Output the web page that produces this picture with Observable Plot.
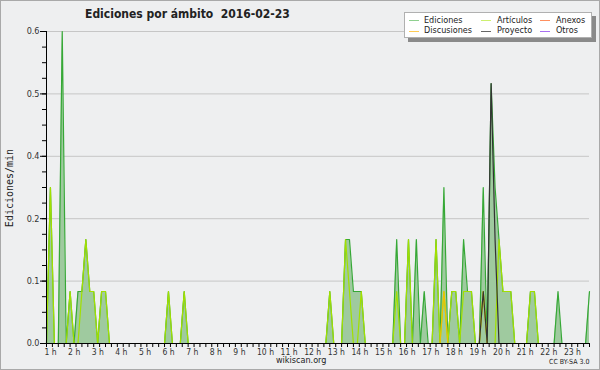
<!DOCTYPE html>
<html><head><meta charset="utf-8">
<script src="https://cdn.jsdelivr.net/npm/d3@7"></script>
<script src="https://cdn.jsdelivr.net/npm/@observablehq/plot@0.6"></script>
<style>
body{margin:0;background:#eeeff0;}
#wrap{position:relative;width:600px;height:370px;background:#eeeff0;overflow:hidden;font-family:"DejaVu Sans Condensed","DejaVu Sans",sans-serif;font-stretch:condensed;color:#222;}
#frame{position:absolute;left:0;top:0;width:600px;height:370px;box-sizing:border-box;border:1px solid #a9a9a9;pointer-events:none;}
.t{position:absolute;white-space:nowrap;line-height:1;}
#legend{position:absolute;left:404px;top:12px;width:188px;height:26px;background:#fff;border:1px solid #b0b0b0;box-shadow:4px 4px 0 0 #8a8a8a;box-sizing:border-box;}
.sw{position:absolute;height:1px;width:10px;}
.lt{position:absolute;font-size:9px;line-height:1;white-space:nowrap;color:#222;}
#chart{position:absolute;left:0;top:0;}
</style></head>
<body><div id="wrap">
<div id="chart"></div>
<div class="t" id="title" style="left:85px;top:8px;font-size:12px;font-weight:bold;">Ediciones por ámbito&nbsp;&nbsp;2016-02-23</div>
<div class="t" id="ytitle" style="left:10px;top:187.5px;font-family:'DejaVu Sans Mono',monospace;font-size:10px;transform:translate(-50%,-50%) rotate(-90deg);font-stretch:normal;">Ediciones/min</div>
<div id="legend"></div>
<div class="t" style="left:276px;top:356px;font-size:9px;">wikiscan.org</div>
<div class="t" style="left:549px;top:359px;font-size:7px;">CC BY-SA 3.0</div>
<div id="frame"></div>
</div>
<script>
// 10-minute bins starting at 1 h (bin 0) up to 24 h (bin 138); one row per hour
const startHour = 1;
const binHours = 1 / 6;
const ediciones = [
  0,0.3,0,0,0.6,0,
  0.1,0,0.1,0.1,0.2,0.1,
  0.1,0,0.1,0.1,0,0,
  0,0,0,0,0,0,
  0,0,0,0,0,0,
  0,0.1,0,0,0,0.1,
  0,0,0,0,0,0,
  0,0,0,0,0,0,
  0,0,0,0,0,0,
  0,0,0,0,0,0,
  0,0,0,0,0,0,
  0,0,0,0,0,0,
  0.1,0,0,0,0.2,0.2,
  0.1,0.1,0.1,0,0,0,
  0,0,0,0,0,0.2,
  0,0,0.2,0,0.2,0,
  0.1,0,0,0.2,0,0.3,
  0,0.1,0.1,0,0.2,0.1,
  0.1,0,0,0.3,0,0.5,
  0.3,0.2,0.1,0.1,0.1,0,
  0,0,0,0.1,0.1,0,
  0,0,0,0,0.1,0,
  0,0,0,0,0,0,
  0.1
];
const articulos = [
  0,0.3,0,0,0,0,
  0.1,0,0,0.1,0.2,0.1,
  0.1,0,0.1,0.1,0,0,
  0,0,0,0,0,0,
  0,0,0,0,0,0,
  0,0.1,0,0,0,0.1,
  0,0,0,0,0,0,
  0,0,0,0,0,0,
  0,0,0,0,0,0,
  0,0,0,0,0,0,
  0,0,0,0,0,0,
  0,0,0,0,0,0,
  0.1,0,0,0,0.2,0.1,
  0,0,0.1,0,0,0,
  0,0,0,0,0,0.1,
  0,0,0.2,0,0,0,
  0,0,0,0.2,0,0.1,
  0,0.1,0.1,0,0.1,0.1,
  0.1,0,0,0.1,0,0,
  0,0.2,0.1,0.1,0.1,0,
  0,0,0,0.1,0.1,0,
  0,0,0,0,0,0,
  0,0,0,0,0,0,
  0
];
const discusiones = [
  0,0,0,0,0,0, 0,0,0,0,0,0, 0,0,0,0,0,0, 0,0,0,0,0,0,
  0,0,0,0,0,0, 0,0,0,0,0,0, 0,0,0,0,0,0, 0,0,0,0,0,0,
  0,0,0,0,0,0, 0,0,0,0,0,0, 0,0,0,0,0,0, 0,0,0,0,0,0,
  0,0,0,0,0,0, 0,0,0,0,0,0, 0,0,0,0,0,0, 0,0,0,0,0,0,
  0,0,0,0,0,0.1, 0,0,0,0,0,0, 0,0,0,0.1,0,0, 0,0,0,0,0,0,
  0,0,0,0,0,0, 0,0,0,0,0,0, 0,0,0,0,0,0,
  0
];
const proyecto = [
  0,0,0,0,0,0, 0,0,0,0,0,0, 0,0,0,0,0,0, 0,0,0,0,0,0,
  0,0,0,0,0,0, 0,0,0,0,0,0, 0,0,0,0,0,0, 0,0,0,0,0,0,
  0,0,0,0,0,0, 0,0,0,0,0,0, 0,0,0,0,0,0, 0,0,0,0,0,0,
  0,0,0,0,0,0, 0,0,0,0,0,0, 0,0,0,0,0,0, 0,0,0,0,0,0,
  0,0,0,0,0,0, 0,0,0,0,0,0, 0,0,0,0.1,0,0.5, 0.2,0,0,0,0,0,
  0,0,0,0,0,0, 0,0,0,0,0,0, 0,0,0,0,0,0,
  0
];
const anexos = new Array(ediciones.length).fill(0);
const otros = new Array(ediciones.length).fill(0);

const hourTicks = [1,2,3,4,5,6,7,8,9,10,11,12,13,14,15,16,17,18,19,20,21,22,23];
const hourLabels = ["1 h","2 h","3 h","4 h","5 h","6 h","7 h","8 h","9 h","10 h","11 h","12 h","13 h","14 h","15 h","16 h","17 h","18 h","19 h","20 h","21 h","22 h","23 h"];
const yTicks = [0, 0.12, 0.24, 0.36, 0.48, 0.6];
const yLabels = ["0.0","0.1","0.2","0.4","0.5","0.6"];

const seriesNames = ["Ediciones","Artículos","Anexos","Discusiones","Proyecto","Otros"];
const lineColors = ["#36a836","#a2e000","#ff7a45","#f0c000","#333333","#9a4df0"];
const legendColors = ["#8fd08f","#cdf070","#ff9060","#ffcc55","#666666","#a870f0"];

const rows = ediciones.map((v, i) => ({
  t: startHour + i * binHours,
  ed: v, ar: articulos[i], an: anexos[i], di: discusiones[i], pr: proyecto[i], ot: otros[i]
}));

const minorX = d3.range(1, 24.001, 0.25);
const minorY = d3.range(0, 0.6001, 0.03);

const chart = Plot.plot({
  width: 600, height: 370,
  marginLeft: 46, marginRight: 11, marginTop: 31, marginBottom: 27,
  style: {background: "transparent", fontFamily: "'DejaVu Sans Condensed','DejaVu Sans',sans-serif", fontStretch: "condensed", color: "#333"},
  x: {domain: [1, 24], axis: null},
  y: {domain: [0, 0.6], axis: null},
  marks: [
    Plot.gridY(yTicks.slice(1), {stroke: "#c6c6c6", strokeOpacity: 1}),
    Plot.areaY(rows, {x: "t", y: "ed", fill: "#9fca9f", curve: "linear"}),
    Plot.lineY(rows, {x: "t", y: "ed", stroke: lineColors[0], strokeWidth: 1.2}),
    Plot.lineY(rows, {x: "t", y: "ar", stroke: lineColors[1], strokeWidth: 1.2}),
    Plot.lineY(rows, {x: "t", y: "an", stroke: lineColors[2], strokeWidth: 1.2}),
    Plot.lineY(rows, {x: "t", y: "ot", stroke: lineColors[5], strokeWidth: 1.2}),
    Plot.lineY(rows, {x: "t", y: "di", stroke: lineColors[3], strokeWidth: 1.2}),
    Plot.lineY(rows, {x: "t", y: "pr", stroke: lineColors[4], strokeWidth: 1.2}),
    Plot.ruleY([0], {stroke: "#000"}),
    Plot.ruleX([1], {stroke: "#000"}),
    Plot.axisX(minorX, {tickSize: 4, tickFormat: () => "", stroke: "#000", label: null}),
    Plot.axisX(hourTicks, {tickSize: 0, tickPadding: 5, tickFormat: d => hourLabels[hourTicks.indexOf(d)], textAnchor: "start", dx: -2, fontSize: 8.5, fill: "#333", label: null}),
    Plot.axisY(minorY, {tickSize: 4, tickFormat: () => "", stroke: "#000", label: null}),
    Plot.axisY(yTicks, {tickSize: 6, tickPadding: 1, tickFormat: d => yLabels[yTicks.indexOf(d)], fontSize: 9, fill: "#333", stroke: "#000", label: null})
  ]
});
document.getElementById("chart").appendChild(chart);

// legend
const legend = document.getElementById("legend");
const cols = [[4, 19], [76, 92], [135, 151]];
const rowsY = [7, 17.5];
const order = [[0,0,0],[1,0,1],[2,0,2],[3,1,0],[4,1,1],[5,1,2]];
for (const [k, r, c] of order) {
  const sw = document.createElement("div");
  sw.className = "sw";
  sw.style.left = cols[c][0] + "px";
  sw.style.top = rowsY[r] + "px";
  sw.style.background = legendColors[k];
  legend.appendChild(sw);
  const tx = document.createElement("div");
  tx.className = "lt";
  tx.style.left = cols[c][1] + "px";
  tx.style.top = (rowsY[r] - 4.5) + "px";
  tx.textContent = seriesNames[k];
  legend.appendChild(tx);
}
</script>
</body></html>
